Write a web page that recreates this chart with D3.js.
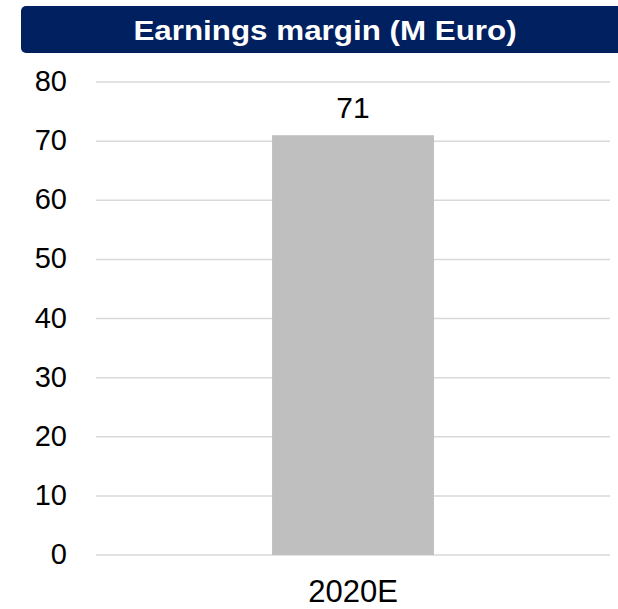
<!DOCTYPE html>
<html>
<head>
<meta charset="utf-8">
<script src="https://cdn.jsdelivr.net/npm/d3@7"></script>
<style>
  html, body { margin: 0; padding: 0; background: #fff; }
  svg { display: block; }
  text { font-family: "Liberation Sans", Arial, sans-serif; }
</style>
</head>
<body>
<div id="chart"></div>
<script>
const title = "Earnings margin (M Euro)";
const categories = ["2020E"];
const values = [71];
const yTicks = [0, 10, 20, 30, 40, 50, 60, 70, 80];

const W = 618, H = 609;

const svg = d3.select("#chart").append("svg").attr("width", W).attr("height", H);

// Title banner
svg.append("rect")
  .attr("x", 21).attr("y", 6).attr("width", 620).attr("height", 47)
  .attr("rx", 5).attr("fill", "#002060");
svg.append("text")
  .attr("transform", "translate(325,40) scale(1.12,1)")
  .attr("text-anchor", "middle")
  .attr("fill", "#fff").attr("font-weight", "bold").attr("font-size", 28)
  .text(title);

const x0 = 96, x1 = 610;
const y = d3.scaleLinear().domain([0, 80]).range([555, 82]);
const x = d3.scaleBand().domain(categories).range([x0, x1]).paddingInner(0.521).paddingOuter(0.521);

// Gridlines
svg.append("g").selectAll("line").data(yTicks).join("line")
  .attr("x1", x0).attr("x2", x1)
  .attr("y1", d => y(d)).attr("y2", d => y(d))
  .attr("stroke", "#d9d9d9").attr("stroke-width", 1.5);

// Y axis labels
svg.append("g").selectAll("text").data(yTicks).join("text")
  .attr("x", 67).attr("y", d => y(d) + 9)
  .attr("text-anchor", "end")
  .attr("font-size", 29).attr("fill", "#000")
  .text(d => d);

// Bars
svg.append("g").selectAll("rect").data(values).join("rect")
  .attr("x", (d, i) => x(categories[i]))
  .attr("width", x.bandwidth())
  .attr("y", d => y(d))
  .attr("height", d => y(0) - y(d))
  .attr("fill", "#bfbfbf");

// Value labels
svg.append("g").selectAll("text").data(values).join("text")
  .attr("x", (d, i) => x(categories[i]) + x.bandwidth() / 2)
  .attr("y", d => y(d) - 17)
  .attr("text-anchor", "middle")
  .attr("font-size", 30).attr("fill", "#000")
  .text(d => d);

// Category labels
svg.append("g").selectAll("text").data(categories).join("text")
  .attr("x", d => x(d) + x.bandwidth() / 2)
  .attr("y", 602)
  .attr("text-anchor", "middle")
  .attr("font-size", 31).attr("fill", "#000")
  .text(d => d);
</script>
</body>
</html>
